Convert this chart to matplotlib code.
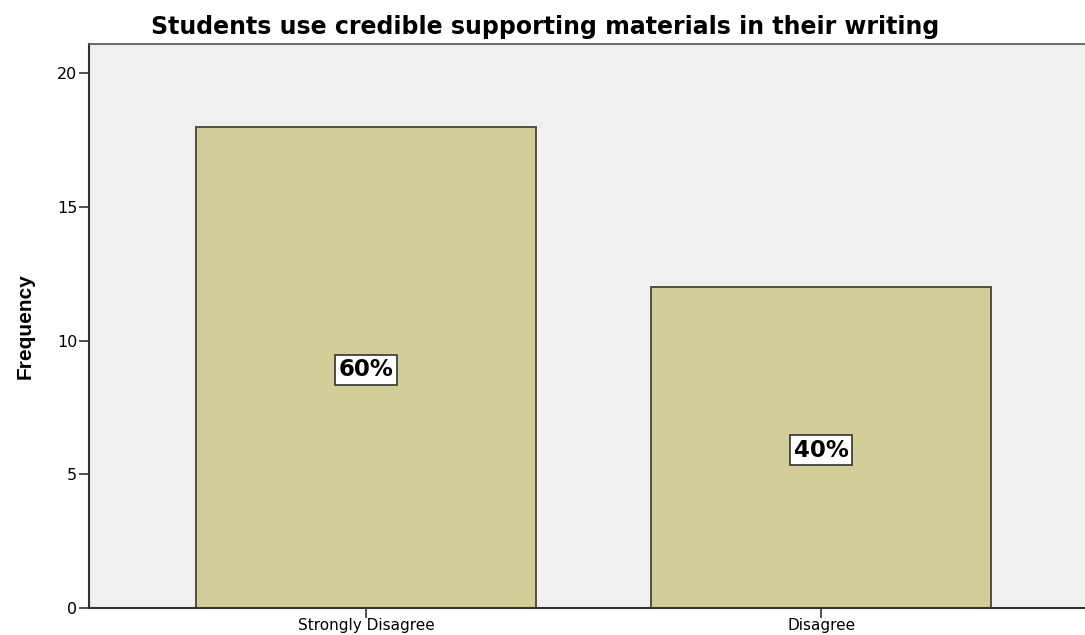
import matplotlib.pyplot as plt

# Bar chart values (frequency counts) and labels
categories = ["Strongly Disagree", "Disagree"]
frequencies = [18, 12]
percent_labels = ["60%", "40%"]
y_ticks = [0, 5, 10, 15, 20]

plt.rcParams['font.family'] = ['DejaVu Sans']

fig = plt.figure(figsize=(10.85, 6.35), dpi=100)
ax = fig.add_axes([0.082, 0.0425, 0.918, 0.888])
ax.set_facecolor('#f0f0f0')

x = list(range(len(categories)))
ax.bar(x, frequencies, width=0.747, color='#d3ce98',
       edgecolor='#45453c', linewidth=1.3, zorder=2)

for xi, f, lab in zip(x, frequencies, percent_labels):
    ax.text(xi, f / 2 - 0.1, lab, ha='center', va='center', fontsize=16.5,
            fontweight='bold', zorder=3,
            bbox=dict(boxstyle='square,pad=0.16', facecolor='white',
                      edgecolor='#333333', linewidth=1.2))

ax.set_xlim(-0.609, 1.58)
ax.set_ylim(0, 21.08)
ax.set_xticks(x)
ax.set_xticklabels(categories, fontsize=11)
ax.set_yticks(y_ticks)
ax.set_yticklabels([str(t) for t in y_ticks], fontsize=11.5)
ax.tick_params(axis='y', direction='out', length=7.5, width=1.2,
               color='#333333', pad=1)
ax.tick_params(axis='x', direction='out', length=7, width=1.2,
               color='#333333', pad=0)

for side in ['left', 'bottom']:
    ax.spines[side].set_color('#333333')
    ax.spines[side].set_linewidth(1.5)
ax.spines['top'].set_color('#555555')
ax.spines['top'].set_linewidth(1.2)
ax.spines['right'].set_visible(False)

ax.set_ylabel('Frequency', fontsize=15, fontweight='bold', labelpad=16,
              family=['Liberation Sans Narrow', 'Liberation Sans'])
fig.text(0.502, 0.957, 'Students use credible supporting materials in their writing',
         ha='center', va='center', fontsize=17, fontweight='bold')

fig.savefig('out.png', dpi=100)
